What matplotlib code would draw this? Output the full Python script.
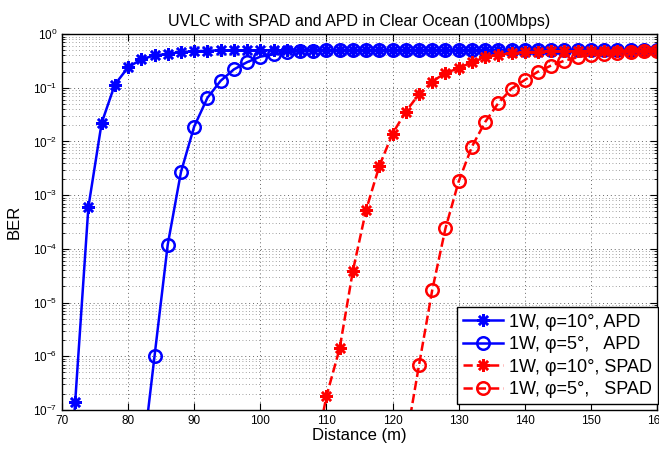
import numpy as np
import matplotlib.pyplot as plt
from matplotlib.ticker import LogLocator, NullFormatter

plt.rcParams['font.family'] = ['Liberation Sans', 'DejaVu Sans']

# distances (m), 2 m step
apd10_x = np.arange(70, 162, 2)
apd10_ber = [3e-11, 1.4e-7, 6e-4, 0.022, 0.115, 0.24, 0.34, 0.40, 0.43, 0.46,
             0.48, 0.49] + [0.5] * 34

apd5_x = np.arange(82, 162, 2)
apd5_ber = [8e-9, 1e-6, 1.2e-4, 2.7e-3, 0.019, 0.065, 0.135, 0.22, 0.30, 0.38,
            0.42, 0.46, 0.48, 0.49] + [0.5] * 26

spad10_x = np.arange(108, 162, 2)
spad10_ber = [1e-8, 1.8e-7, 1.4e-6, 3.9e-5, 5.3e-4, 3.5e-3, 0.014, 0.036, 0.076,
              0.13, 0.19, 0.23, 0.30, 0.37, 0.41, 0.44, 0.46, 0.47, 0.48, 0.48,
              0.48, 0.49, 0.49, 0.49, 0.49, 0.49, 0.49]

spad5_x = np.arange(122, 162, 2)
spad5_ber = [2.5e-8, 6.8e-7, 1.7e-5, 2.4e-4, 1.8e-3, 8e-3, 0.023, 0.052, 0.097,
             0.14, 0.20, 0.26, 0.32, 0.37, 0.41, 0.42, 0.45, 0.47, 0.48, 0.49]

labels = ['1W, \u03c6=10\u00b0, APD', '1W, \u03c6=5\u00b0,   APD',
          '1W, \u03c6=10\u00b0, SPAD', '1W, \u03c6=5\u00b0,   SPAD']

fig = plt.figure(figsize=(6.59, 4.49), dpi=100)
ax = fig.add_axes([0.094, 0.087, 0.903, 0.837])

star = (8, 2, 0)
ax.semilogy(apd10_x, apd10_ber, '-', color='b', lw=1.8, marker=star, ms=9, mew=1.8,
            label=labels[0])
ax.semilogy(apd5_x, apd5_ber, '-', color='b', lw=1.8, marker='o', ms=9, mew=1.8,
            mfc='none', label=labels[1])
ax.semilogy(spad10_x, spad10_ber, '--', color='r', lw=1.8, marker=star, ms=9, mew=1.8,
            label=labels[2])
ax.semilogy(spad5_x, spad5_ber, '--', color='r', lw=1.8, marker='o', ms=9, mew=1.8,
            mfc='none', label=labels[3])

ax.set_xlim(70, 160)
ax.set_ylim(1e-7, 1)
ax.set_xticks(np.arange(70, 161, 10))
ax.yaxis.set_major_locator(LogLocator(base=10, numticks=10))
ax.yaxis.set_minor_locator(LogLocator(base=10, subs=np.arange(2, 10), numticks=20))
ax.yaxis.set_minor_formatter(NullFormatter())

dots = (0, (1, 3))
ax.grid(True, which='major', axis='both', linestyle=dots, color='0.4', lw=0.7)
ax.grid(True, which='minor', axis='y', linestyle=dots, color='0.5', lw=0.6)
ax.tick_params(which='both', direction='in', top=True, right=True, labelsize=8.5)
ax.tick_params(which='major', length=5)
ax.tick_params(which='minor', length=2.5)
for s in ax.spines.values():
    s.set_linewidth(1.0)

ax.set_title('UVLC with SPAD and APD in Clear Ocean (100Mbps)', fontsize=11.5, pad=6)
ax.set_xlabel('Distance (m)', fontsize=12, labelpad=1)
ax.set_ylabel('BER', fontsize=12, labelpad=8)

leg = ax.legend(loc='lower right', bbox_to_anchor=(1.0015, 0.015), fontsize=13,
                fancybox=False, framealpha=1, edgecolor='k', handlelength=2.2,
                borderpad=0.35, labelspacing=0.3, handletextpad=0.3, borderaxespad=0)
leg.get_frame().set_linewidth(1.0)

fig.savefig('out.png', dpi=100)
